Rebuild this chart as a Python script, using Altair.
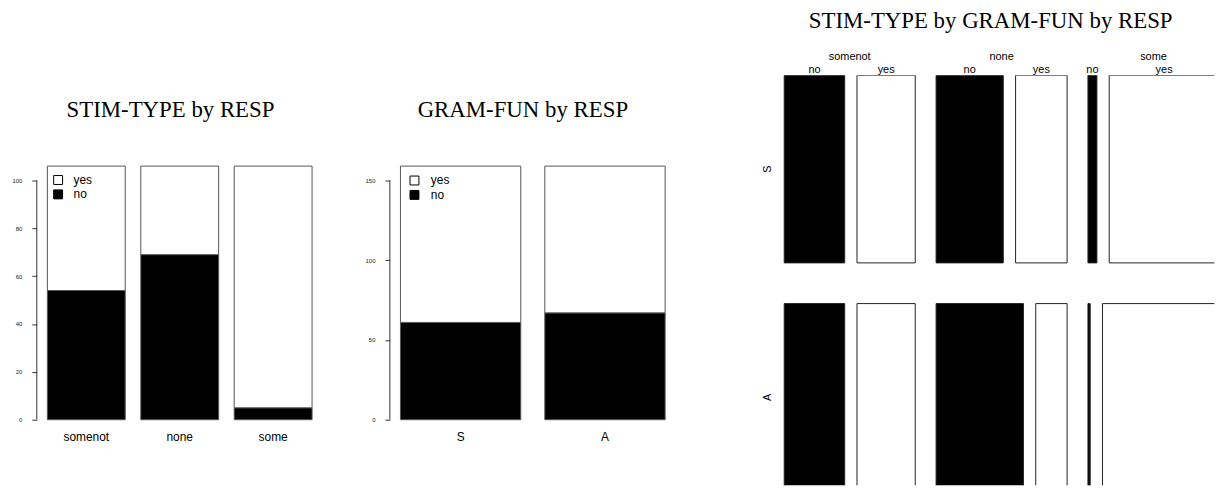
import altair as alt
import pandas as pd

# ---------------- data ----------------
STIM_TYPES = ["somenot", "none", "some"]
GRAM_FUNS = ["S", "A"]
RESPS = ["no", "yes"]
LEGEND_ORDER = ["yes", "no"]

# counts per STIM-TYPE (in STIM_TYPES order), split by GRAM-FUN and RESP
NO_S = [27, 30, 4]
YES_S = [26, 23, 49]
NO_A = [27, 39, 1]
YES_A = [26, 14, 52]

TITLE_STIM = "STIM-TYPE by RESP"
TITLE_GRAM = "GRAM-FUN by RESP"
TITLE_MOSAIC = "STIM-TYPE by GRAM-FUN by RESP"

TICKS_STIM = [0, 20, 40, 60, 80, 100]
TICKS_GRAM = [0, 50, 100, 150]

FILLS = ["black", "white"]  # no, yes

# ---------------- layout / style ----------------
BAR_W = 288
PANEL_H = 413
Y_BASE = 347
Y_TOP = 91.5
SPACING = 67.7
MOS_W = 475
MOS_LEFT = 41.6
MOS_FULL_W = 438
MOS_FULL_H = 419
GAP_STIM = 21 / 438
GAP_RESP = 12.4 / 438
GAP_ROW = 41 / 419
SANS = "Liberation Sans"
SERIF = "Liberation Serif"
TITLE_SIZE = 23

counts = {}
for i, st in enumerate(STIM_TYPES):
    counts[(st, "S", "no")] = NO_S[i]
    counts[(st, "S", "yes")] = YES_S[i]
    counts[(st, "A", "no")] = NO_A[i]
    counts[(st, "A", "yes")] = YES_A[i]

df_stim = pd.DataFrame(
    [{"cat": st, "resp": r, "rord": RESPS.index(r),
      "count": sum(counts[(st, g, r)] for g in GRAM_FUNS)}
     for st in STIM_TYPES for r in RESPS])
df_gram = pd.DataFrame(
    [{"cat": g, "resp": r, "rord": RESPS.index(r),
      "count": sum(counts[(st, g, r)] for st in STIM_TYPES)}
     for g in GRAM_FUNS for r in RESPS])

fill_scale = alt.Scale(domain=RESPS, range=FILLS)


def bar_panel(df, cats, ticks, title, leg_sym_x, leg_txt_x, leg_y, title_dx):
    n = len(cats)
    total = float(df.groupby("cat")["count"].sum().max())
    space = 0.2
    pad_inner = space / (1 + space)
    pad_outer = 0.04 * (n * (1 + space) - space) / (1 + space)
    xsc = alt.Scale(domain=cats, paddingInner=pad_inner, paddingOuter=pad_outer)
    ysc = alt.Scale(domain=[0, total], range=[Y_BASE, Y_TOP], nice=False, zero=True)
    yaxis = alt.Axis(values=ticks, domain=False, grid=False, ticks=True, tickSize=5,
                     tickColor="#333", tickWidth=1, labelFontSize=6, labelFont=SANS,
                     labelColor="#222", labelPadding=10, title=None)
    bars = alt.Chart(df).mark_bar(stroke="#555", strokeWidth=1).encode(
        x=alt.X("cat:N", sort=cats, scale=xsc, axis=None),
        y=alt.Y("count:Q", stack="zero", scale=ysc, axis=yaxis),
        fill=alt.Fill("resp:N", scale=fill_scale, legend=None),
        order=alt.Order("rord:Q"),
    )
    axis_line = alt.Chart(pd.DataFrame({"lo": [ticks[0]], "hi": [ticks[-1]]})).mark_rule(
        color="#333", strokeWidth=1).encode(
        x=alt.value(0),
        y=alt.Y("lo:Q", scale=ysc, axis=yaxis),
        y2="hi:Q",
    )
    cat_labels = alt.Chart(pd.DataFrame({"cat": cats, "zero": [0] * n})).mark_text(
        baseline="alphabetic", dy=21, fontSize=12, font=SANS, color="black").encode(
        x=alt.X("cat:N", sort=cats, scale=xsc, axis=None),
        y=alt.Y("zero:Q", scale=ysc, axis=yaxis),
        text="cat:N",
    )
    layers = [bars, axis_line, cat_labels]
    for k, r in enumerate(LEGEND_ORDER):
        ldf = pd.DataFrame({"resp": [r]})
        layers.append(alt.Chart(ldf).mark_square(size=81, stroke="black", strokeWidth=1,
                                                 opacity=1).encode(
            x=alt.value(leg_sym_x), y=alt.value(leg_y + 14.5 * k),
            fill=alt.Fill("resp:N", scale=fill_scale, legend=None)))
        layers.append(alt.Chart(ldf).mark_text(align="left", baseline="middle", fontSize=12,
                                               font=SANS, color="black").encode(
            x=alt.value(leg_txt_x), y=alt.value(leg_y + 14.5 * k), text="resp:N"))
    return alt.layer(*layers).properties(
        width=BAR_W, height=PANEL_H,
        title=alt.TitleParams(title, font=SERIF, fontSize=TITLE_SIZE, fontWeight="normal",
                              color="black", anchor="middle", frame="group", offset=0,
                              baseline="alphabetic", dx=title_dx, dy=65.5),
    )


p1 = bar_panel(df_stim, STIM_TYPES, TICKS_STIM, TITLE_STIM, 21.5, 37, 105.5, -9.3)
p2 = bar_panel(df_gram, GRAM_FUNS, TICKS_GRAM, TITLE_GRAM, 24.8, 41.3, 106, -10)

# ---------------- mosaic ----------------
N = sum(counts.values())
rects, stim_lab, resp_lab, row_lab = [], [], [], []
x = 0.0
for st in STIM_TYPES:
    n_st = sum(counts[(st, g, r)] for g in GRAM_FUNS for r in RESPS)
    colw = (1 - GAP_STIM * (len(STIM_TYPES) - 1)) * n_st / N
    stim_lab.append({"lab": st, "xc": x + colw / 2, "zero": 0})
    y = 0.0
    for g in GRAM_FUNS:
        n_sg = sum(counts[(st, g, r)] for r in RESPS)
        rowh = (1 - GAP_ROW * (len(GRAM_FUNS) - 1)) * n_sg / n_st
        if st == STIM_TYPES[0]:
            row_lab.append({"lab": g, "yc": y + rowh / 2, "zero": 0})
        xx = x
        for r in RESPS:
            w = (colw - GAP_RESP * (len(RESPS) - 1)) * counts[(st, g, r)] / n_sg
            rects.append({"stim": st, "gram": g, "resp": r,
                          "x0": xx, "x1": xx + w, "y0": y, "y1": y + rowh})
            if g == GRAM_FUNS[0]:
                resp_lab.append({"lab": r, "xc": xx + w / 2, "zero": 0})
            xx += w + GAP_RESP
        y += rowh + GAP_ROW
    x += colw + GAP_STIM

mxs = alt.Scale(domain=[0, 1], range=[MOS_LEFT, MOS_LEFT + MOS_FULL_W], nice=False, zero=False)
mys = alt.Scale(domain=[0, 1], range=[0, MOS_FULL_H], nice=False, zero=False)

mos_rects = alt.Chart(pd.DataFrame(rects)).mark_rect(stroke="#222", strokeWidth=1, clip=True).encode(
    x=alt.X("x0:Q", scale=mxs, axis=None), x2="x1:Q",
    y=alt.Y("y0:Q", scale=mys, axis=None), y2="y1:Q",
    fill=alt.Fill("resp:N", scale=fill_scale, legend=None),
)
mos_stim = alt.Chart(pd.DataFrame(stim_lab)).mark_text(
    baseline="alphabetic", dy=-15, fontSize=11, font=SANS, color="black").encode(
    x=alt.X("xc:Q", scale=mxs, axis=None), y=alt.Y("zero:Q", scale=mys, axis=None),
    text="lab:N")
mos_resp = alt.Chart(pd.DataFrame(resp_lab)).mark_text(
    baseline="alphabetic", dy=-2.5, fontSize=11, font=SANS, color="black").encode(
    x=alt.X("xc:Q", scale=mxs, axis=None), y=alt.Y("zero:Q", scale=mys, axis=None),
    text="lab:N")
mos_rows = alt.Chart(pd.DataFrame(row_lab)).mark_text(
    baseline="middle", align="center", angle=270, dy=-16, fontSize=11, font=SANS,
    color="black").encode(
    x=alt.X("zero:Q", scale=mxs, axis=None), y=alt.Y("yc:Q", scale=mys, axis=None),
    text="lab:N")

p3 = alt.layer(mos_rects, mos_stim, mos_resp, mos_rows).properties(
    width=MOS_W, height=PANEL_H,
    title=alt.TitleParams(TITLE_MOSAIC, font=SERIF, fontSize=TITLE_SIZE, fontWeight="normal",
                          color="black", anchor="middle", frame="group", offset=0,
                          baseline="alphabetic", dx=12.1, dy=-0.5),
)

chart = alt.hconcat(p1, p2, p3, spacing=SPACING, bounds="flush").resolve_scale(
    x="independent", y="independent", fill="independent"
).properties(
    padding={"left": 3, "top": 0, "right": 0, "bottom": 0},
    background="white",
).configure_view(strokeWidth=0)

chart.save("out.html", embed_options={"renderer": "svg", "actions": False})
